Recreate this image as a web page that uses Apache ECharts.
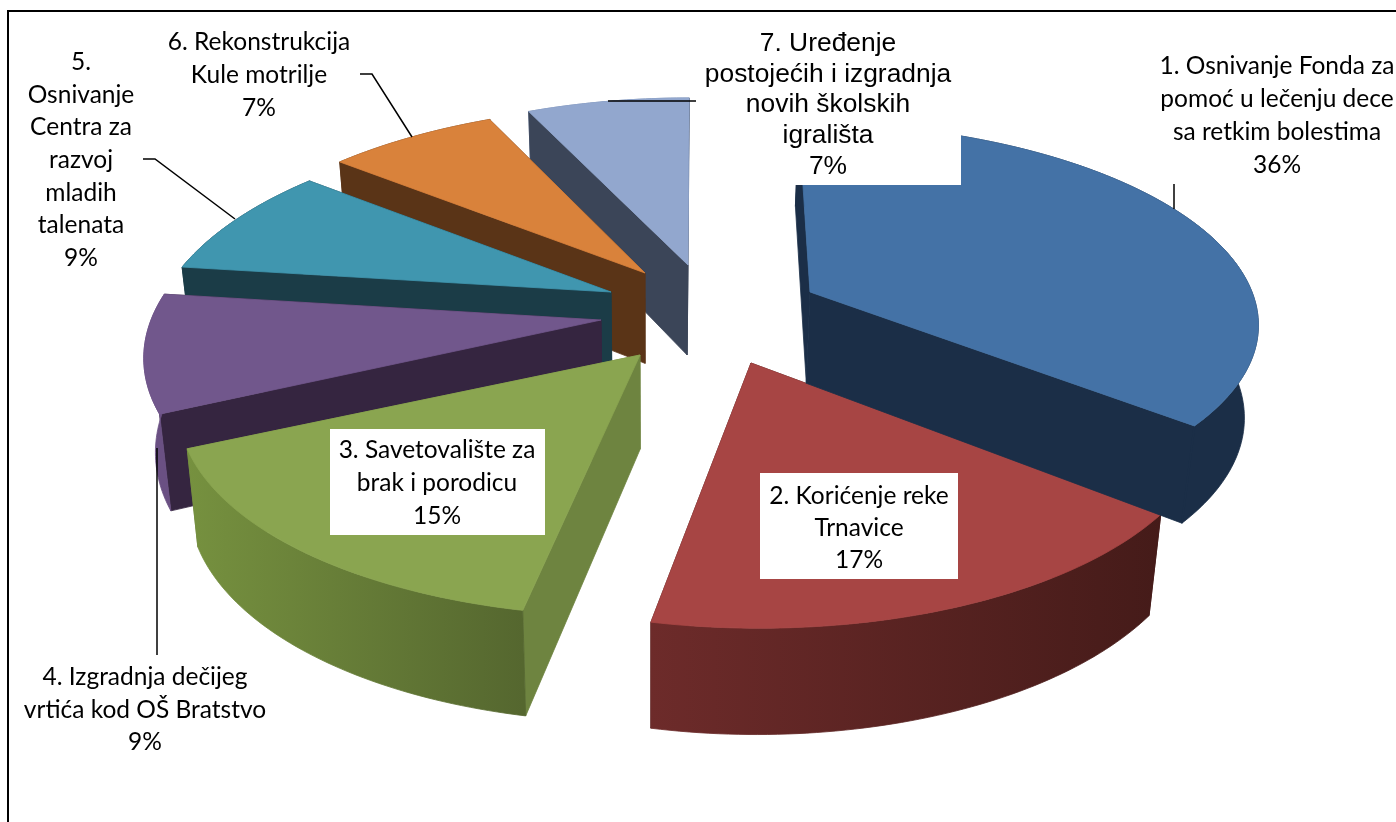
<!DOCTYPE html>
<html><head><meta charset="utf-8">
<style>html,body{margin:0;padding:0;background:#fff}#c{width:1396px;height:822px}</style>
<script src="https://cdn.jsdelivr.net/npm/echarts@6/dist/echarts.min.js"></script>
</head><body><div id="c"></div>
<script>
// --- chart data ---
const categories = [
  '1. Osnivanje Fonda za\npomoć u lečenju dece\nsa retkim bolestima',
  '2. Korićenje reke\nTrnavice',
  '3. Savetovalište za\nbrak i porodicu',
  '4. Izgradnja dečijeg\nvrtića kod OŠ Bratstvo',
  '5.\nOsnivanje\nCentra za\nrazvoj\nmladih\ntalenata',
  '6. Rekonstrukcija\nKule motrilje',
  '7. Uređenje\npostojećih i izgradnja\nnovih školskih\nigrališta'
];
const values = [35.9, 17.1, 15.1, 8.9, 8.6, 7.3, 7.1];
// --- styling per slice ---
const topColors = ['#4472A6', '#A74544', '#8AA550', '#71578C', '#4096AF', '#D9823B', '#92A7CE'];
const cutColors = ['#1B2E47', '#451B19', '#6E8440', '#352540', '#1B3C47', '#5A3417', '#3B4558'];
const wallFrom = ['#1B2E47', '#451B19', '#55672F', '#6A5083', '#1B3C47', '#5A3417', '#6F85AB'];
const wallTo = ['#1B2E47', '#6D2B2A', '#76913F', '#6A5083', '#1B3C47', '#5A3417', '#6F85AB'];
// explosion of each slice's apex, px from the pie centre
const explodeX = [130, 71, -40, -79, -69, -35, 8];
const explodeY = [-23, 48, 40, 5, -23, -42, -50];
const sliceRx = [442, 448, 448, 450, 446, 448, 448];
const sliceRy = [193, 205, 202, 210, 205, 205, 205];
const slicePersp = [0.14, 0.227, 0.227, 0.15, 0.227, 0.227, 0.227];
const drawOrder = [6, 5, 4, 3, 1, 0, 2];
const pie = {cx: 680, cy: 315, shear: 0.0006, shearX: 700};
const extr = {vx: 650, sx: 0.977, d: 90, dy: 0.045, y0: 265};

const total = values.reduce((a,b)=>a+b,0);

function renderSlice(params, api){
  const i = api.value(0), val = api.value(1);
  let before = 0; for(let k=0;k<i;k++) before += values[k];
  const a0 = before/total*360, a1 = (before+val)/total*360;
  const ax = pie.cx+explodeX[i], ay = pie.cy+explodeY[i];
  const rim = t => {
    const r = t*Math.PI/180, u = Math.sin(r), v = -Math.cos(r), s = 1/(1-slicePersp[i]*v);
    const dy = sliceRy[i]*v*s;
    return [ax + sliceRx[i]*u*s + pie.shear*(ax-pie.shearX)*dy, ay + dy];
  };
  const low = p => [extr.vx+(p[0]-extr.vx)*extr.sx, p[1]+extr.d+extr.dy*(p[1]-extr.y0)];
  const apex = [ax, ay];
  const poly = (points, fill) => ({type:'polygon', shape:{points}, style:{fill, stroke:fill, lineWidth:0.8}});
  const pStart = rim(a0), pEnd = rim(a1);
  const n = Math.max(2, Math.ceil(a1-a0));
  const arc = [];
  for(let k=0;k<=n;k++) arc.push(rim(a0+(a1-a0)*k/n));
  const wallPts = arc.concat(arc.map(low).reverse());
  const wallFill = {type:'linear', global:true, x:pStart[0], y:0, x2:pEnd[0], y2:0,
    colorStops:[{offset:0,color:wallFrom[i]},{offset:1,color:wallTo[i]}]};
  const wall = poly(wallPts, wallFill);
  const cuts = [poly([apex, pEnd, low(pEnd), low(apex)], cutColors[i]),
                poly([apex, pStart, low(pStart), low(apex)], cutColors[i])];
  const midV = -Math.cos((a0+a1)/2*Math.PI/180);
  const kids = midV < 0 ? [wall].concat(cuts) : cuts.concat([wall]);
  if (wallTo[i] === cutColors[i]) {
    kids.push({type:'line', shape:{x1:pEnd[0], y1:pEnd[1], x2:low(pEnd)[0], y2:low(pEnd)[1]}, style:{stroke:cutColors[i], lineWidth:2}});
  }
  kids.push(poly([apex].concat(arc), topColors[i]));
  return {type:'group', children:kids};
}

// --- labels ---
const labelCenters = [[1277,116],[859,528],[437,483],[145,710],[81,160],[259,75],[828,105]];
const labelLine = [33,32,33,32.5,32.6,33,30.7];
const labelBoxes = [null,[760,473,198,106],[330,429,215,106],null,null,null,[696,30,265,155]];
const labelFont = i => i===6 ? '26.4px "Liberation Sans"' : '24.5px Lato';
const leaders = [
  [[1174,184],[1174,209]],
  null, null,
  [[157,448],[157,655]],
  [[143,159],[155,159],[235,219]],
  [[360,74],[372,74],[412,137]],
  [[608,101],[696,101]]
];
const g = [];
g.push({type:'polyline', silent:true, shape:{points:[[8,822],[8,11],[1396,11]]}, style:{fill:'none', stroke:'#000', lineWidth:2}, z:100});
labelBoxes.forEach(b=>{ if(b) g.push({type:'rect', silent:true, shape:{x:b[0],y:b[1],width:b[2],height:b[3]}, style:{fill:'#fff'}, z:101}); });
leaders.forEach(l=>{ if(l) g.push({type:'polyline', silent:true, shape:{points:l}, style:{fill:'none', stroke:'#000', lineWidth:1.5}, z:102}); });
categories.forEach((c,i)=>{
  g.push({type:'text', silent:true, x:labelCenters[i][0], y:labelCenters[i][1], z:103,
    style:{text:c+'\n'+Math.round(values[i])+'%', font:labelFont(i), fill:'#000', align:'center', verticalAlign:'middle', lineHeight:labelLine[i]}});
});

const chart = echarts.init(document.getElementById('c'), null, {renderer:'canvas'});
chart.setOption({
  animation:false,
  graphic:{elements:g},
  series:[{type:'custom', coordinateSystem:'none', silent:true, clip:false,
    renderItem:renderSlice,
    data:drawOrder.map(i=>({name:categories[i], value:[i, values[i]]}))}]
});
</script></body></html>
